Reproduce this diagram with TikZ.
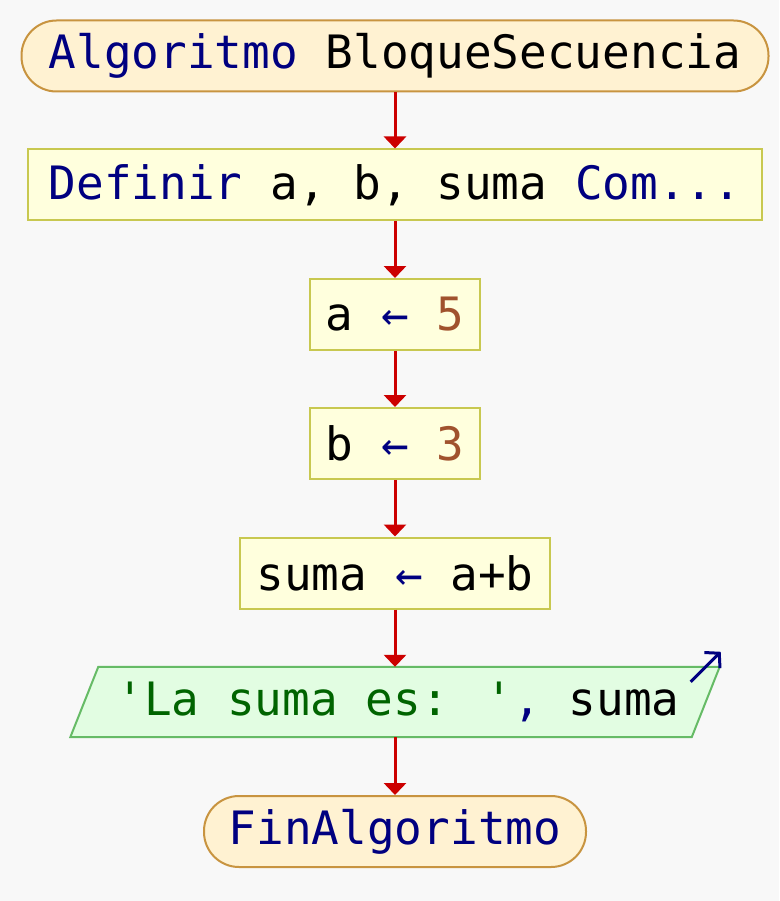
\documentclass[tikz,border=0pt]{standalone}
\usepackage{fontspec}
\setmainfont{DejaVu Sans Mono}[Ligatures=TeXOff]
\usetikzlibrary{arrows.meta}
\definecolor{bgc}{HTML}{F8F8F8}
\definecolor{termfill}{HTML}{FFF2D2}
\definecolor{termdraw}{HTML}{C89440}
\definecolor{procfill}{HTML}{FFFFDD}
\definecolor{procdraw}{HTML}{C8C850}
\definecolor{iofill}{HTML}{E2FDE2}
\definecolor{iodraw}{HTML}{66BB66}
\definecolor{flowc}{HTML}{CC0000}
\definecolor{kw}{HTML}{000080}
\definecolor{num}{HTML}{A0522D}
\definecolor{str}{HTML}{006400}
\tikzset{
  base/.style={inner sep=0pt, font=\fontsize{46}{50}\selectfont, minimum height=71},
  term/.style={base, rectangle, rounded corners=35, draw=termdraw, fill=termfill, line width=2pt},
  proc/.style={base, rectangle, draw=procdraw, fill=procfill, line width=2pt},
  iotext/.style={base},
  flow/.style={draw=flowc, line width=3pt, -{Triangle[length=12pt,width=22pt]}},
}
\begin{document}
\begin{tikzpicture}[x=1pt,y=-1pt]
\fill[bgc] (0,0) rectangle (779,901);
\useasboundingbox (0,0) rectangle (779,901);
\node[term, minimum width=747] (start) at (395,56) {\textcolor{kw}{Algoritmo} BloqueSecuencia};
\node[proc, minimum width=734] (def) at (395,185) {\textcolor{kw}{Definir} a, b, suma \textcolor{kw}{Com...}};
\node[proc, minimum width=170] (asa) at (395,314.5) {a \textcolor{kw}{←} \textcolor{num}{5}};
\node[proc, minimum width=170] (asb) at (395,443.5) {b \textcolor{kw}{←} \textcolor{num}{3}};
\node[proc, minimum width=310] (assum) at (395,573) {suma \textcolor{kw}{←} a+b};
\node[iotext, minimum width=649, minimum height=70] (out) at (395,702) {};
\draw[draw=iodraw, fill=iofill, line width=2pt]
  ([xshift=28]out.north west) -- (out.north east) -- ([xshift=-28]out.south east) -- (out.south west) -- cycle;
\node[iotext] (outtxt) at (398,702) {\textcolor{str}{'La suma es: '}\textcolor{kw}{,} suma};
\coordinate (o1) at ([shift={(-29,15)}]out.north east);
\coordinate (o2) at ([shift={(1,-15)}]out.north east);
\draw[kw, line width=3pt, -{Straight Barb[length=10pt,width=22pt]}] (o1) -- (o2);
\node[term, minimum width=382] (fin) at (395,831.5) {\textcolor{kw}{FinAlgoritmo}};
\draw[flow] (start.south) -- (def.north);
\draw[flow] (def.south) -- (asa.north);
\draw[flow] (asa.south) -- (asb.north);
\draw[flow] (asb.south) -- (assum.north);
\draw[flow] (assum.south) -- (out.north);
\draw[flow] (out.south) -- (fin.north);
\end{tikzpicture}
\end{document}
